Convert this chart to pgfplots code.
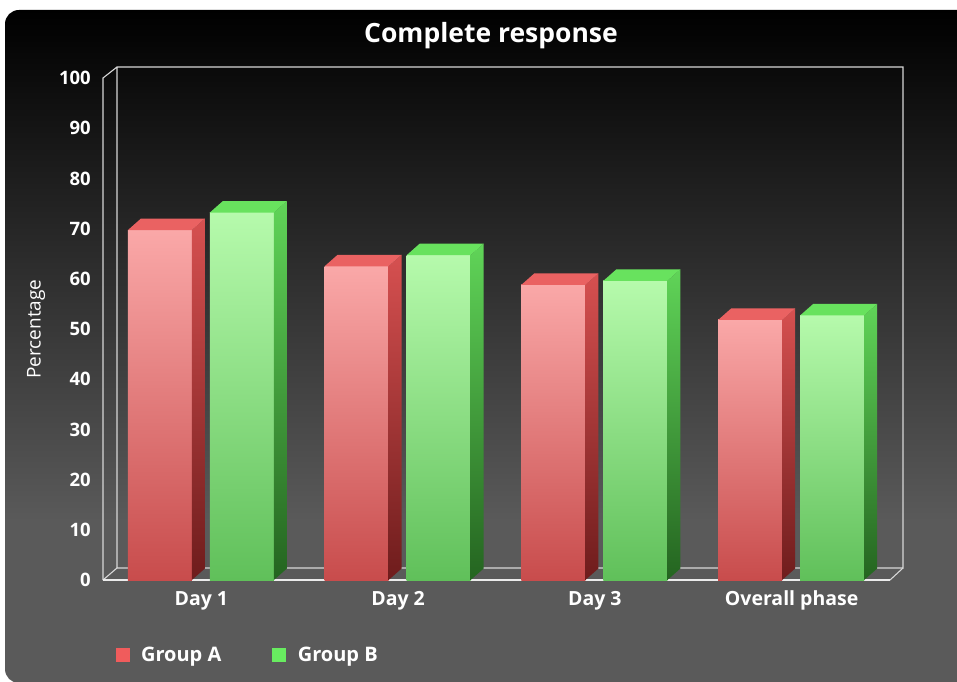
\documentclass[border=0pt]{standalone}
\usepackage{pgfplots}
\pgfplotsset{compat=1.18}
\usepackage{fontspec}
\setmainfont{Open Sans}
\definecolor{rFrontT}{RGB}{250,168,168}
\definecolor{rFrontB}{RGB}{200,76,76}
\definecolor{rSideT}{RGB}{214,80,80}
\definecolor{rSideB}{RGB}{110,28,28}
\definecolor{rTop}{RGB}{234,98,98}
\definecolor{gFrontT}{RGB}{182,250,172}
\definecolor{gFrontB}{RGB}{96,192,90}
\definecolor{gSideT}{RGB}{96,212,88}
\definecolor{gSideB}{RGB}{36,100,32}
\definecolor{gTop}{RGB}{104,226,94}
\definecolor{legA}{RGB}{240,92,92}
\definecolor{legB}{RGB}{104,236,96}
\definecolor{bgB}{RGB}{90,90,90}
\definecolor{framec}{RGB}{215,215,215}
\pgfdeclareverticalshading{bgshade}{100bp}{color(0bp)=(bgB); color(25bp)=(bgB); color(37bp)=(bgB); color(75bp)=(black); color(100bp)=(black)}
\pgfdeclareplotmark{nothing}{}
\pgfplotsset{
  bar3d/.style n args={6}{
    scatter, only marks, mark=nothing,
    visualization depends on={rawy \as \barval},
    scatter/@pre marker code/.code={%
      \pgfmathsetmacro\barh{\barval*5.02}%
      \pgfmathsetmacro\xl{#1-32}%
      \pgfmathsetmacro\xr{#1+32}%
      \shade[draw=none, top color=#2, bottom color=#3] (\xl pt,-\barh pt) rectangle (\xr pt,0pt);
      \shade[draw=none, top color=#4, bottom color=#5] (\xr pt,-\barh pt) -- (\xr pt,0pt) -- ++(13pt,11.5pt) -- ++(0pt,-\barh pt) -- cycle;
      \fill[draw=none, #6] (\xl pt,0pt) -- ++(13pt,11.5pt) -- ++(64pt,0pt) -- (\xr pt,0pt) -- cycle;
    },
    scatter/@post marker code/.code={},
  },
}
\begin{document}
\begin{tikzpicture}[x=1pt,y=1pt]
\useasboundingbox (0,0) rectangle (957,681);
\fill[white] (0,0) rectangle (957,681);
\begin{scope}
\clip (0,0) rectangle (957,681);
\shade[shading=bgshade, rounded corners=14pt] (5,-2) rectangle (975,671);
\end{scope}
% 3D frame
\begin{scope}[draw=framec, line width=1.1pt]
\draw (103,101) -- (103,603) -- (117,614) -- (903,614) -- (903,113) -- (117,113) -- (117,614);
\draw (103,101) -- (117,113);
\draw (890,101) -- (903,113);
\draw[line width=1.4pt, white!92!black] (103,101) -- (890,101);
\end{scope}
\node[text=white, font=\bfseries\fontsize{26.5}{30}\selectfont] at (491,645) {Complete response};
\begin{axis}[
  at={(103pt,101pt)}, anchor=south west,
  scale only axis, width=787pt, height=502pt,
  xmin=-0.5, xmax=3.5, ymin=0, ymax=100,
  xtick={0,1,2,3}, xticklabels={Day 1,Day 2,Day 3,Overall phase},
  ytick={0,10,...,100},
  axis line style={draw=none}, tick style={draw=none}, major tick length=0pt,
  clip=false,
  /pgf/number format/assume math mode=true,
  ticklabel style={text=white},
  yticklabel style={anchor=east, inner sep=0pt, xshift=-12pt, font=\bfseries\fontsize{18.5}{22}\selectfont},
  xticklabel style={anchor=base, inner sep=0pt, yshift=-25pt, font=\bfseries\fontsize{19.5}{23}\selectfont},
  ylabel={Percentage},
  every axis y label/.style={at={(axis description cs:-0.085,0.5)}, rotate=90, anchor=center, text=white, font=\fontsize{19}{22}\selectfont},
  legend columns=2,
  legend cell align=left,
  legend style={at={(axis description cs:0.012,-0.149)}, anchor=west, draw=none, fill=none, text=white,
    font=\bfseries\fontsize{20}{24}\selectfont,
    /tikz/every odd column/.append style={column sep=10pt},
    /tikz/every even column/.append style={column sep=49pt}},
]
\addplot[bar3d={-41.5}{rFrontT}{rFrontB}{rSideT}{rSideB}{rTop},
  legend image code/.code={\fill[legA] (0pt,-6.5pt) rectangle (13pt,6.5pt);}]
  coordinates {(0,69.7) (1,62.5) (2,58.8) (3,51.8)};
\addlegendentry{Group A}
\addplot[bar3d={40.5}{gFrontT}{gFrontB}{gSideT}{gSideB}{gTop},
  legend image code/.code={\fill[legB] (0pt,-6.5pt) rectangle (13pt,6.5pt);}]
  coordinates {(0,73.2) (1,64.7) (2,59.6) (3,52.7)};
\addlegendentry{Group B}
\end{axis}
\end{tikzpicture}
\end{document}
